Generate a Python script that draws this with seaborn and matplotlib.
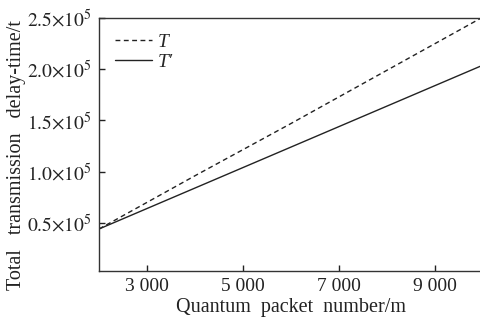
import matplotlib
matplotlib.use("Agg")
import matplotlib.pyplot as plt
import seaborn as sns
import pandas as pd

# values
packets = [2000, 4000, 6000, 8000, 10000]
delay_T = [0.44e5, 0.96e5, 1.47e5, 1.99e5, 2.51e5]
delay_T_prime = [0.44e5, 0.84e5, 1.24e5, 1.64e5, 2.04e5]
series_names = ["T", "T\u2032"]
x_ticks = [3000, 5000, 7000, 9000]
x_tick_labels = ["3 000", "5 000", "7 000", "9 000"]
y_ticks = [0.5e5, 1.0e5, 1.5e5, 2.0e5, 2.5e5]
y_tick_labels = [r"$0.5{\times}10^{5}$", r"$1.0{\times}10^{5}$", r"$1.5{\times}10^{5}$",
                 r"$2.0{\times}10^{5}$", r"$2.5{\times}10^{5}$"]

df = pd.DataFrame({
    "m": packets * 2,
    "delay": delay_T + delay_T_prime,
    "series": [series_names[0]] * len(packets) + [series_names[1]] * len(packets),
})

sns.set_style("ticks")
plt.rcParams["font.family"] = ["Liberation Serif", "DejaVu Serif"]
plt.rcParams["mathtext.fontset"] = "stix"

fig = plt.figure(figsize=(4.8, 3.2), dpi=100)
ax = fig.add_axes([99 / 480, 49 / 320, 384 / 480, 253 / 320])

sns.lineplot(data=df, x="m", y="delay", hue="series", style="series",
             palette=["#222222", "#222222"], dashes=[(3.5, 2.5), ""],
             linewidth=1.0, ax=ax)

ax.set_xlim(2000, 10000)
ax.set_ylim(3000, 2.5e5)
ax.set_xticks(x_ticks)
ax.set_xticklabels(x_tick_labels)
ax.set_yticks(y_ticks)
ax.set_yticklabels(y_tick_labels)
ax.tick_params(direction="in", length=4, width=1, labelsize=14, colors="#222222", pad=5)

for side in ["left", "bottom", "top"]:
    ax.spines[side].set_visible(True)
    ax.spines[side].set_linewidth(1.0)
    ax.spines[side].set_color("#333333")
ax.spines["right"].set_visible(False)

ax.set_xlabel("Quantum  packet  number/m", fontsize=14.5, color="#222222", labelpad=2)
ax.set_ylabel("Total   transmission   delay-time/t", fontsize=14.5, color="#222222")
ax.yaxis.set_label_coords(-0.19, 0.458)

leg = ax.legend(loc="upper left", frameon=False, fontsize=14, handlelength=1.9,
                handletextpad=0.3, labelspacing=0.1, borderaxespad=0.4)
leg.set_title(None)
for txt in leg.get_texts():
    txt.set_fontstyle("italic")

fig.savefig("out.png", dpi=100)
